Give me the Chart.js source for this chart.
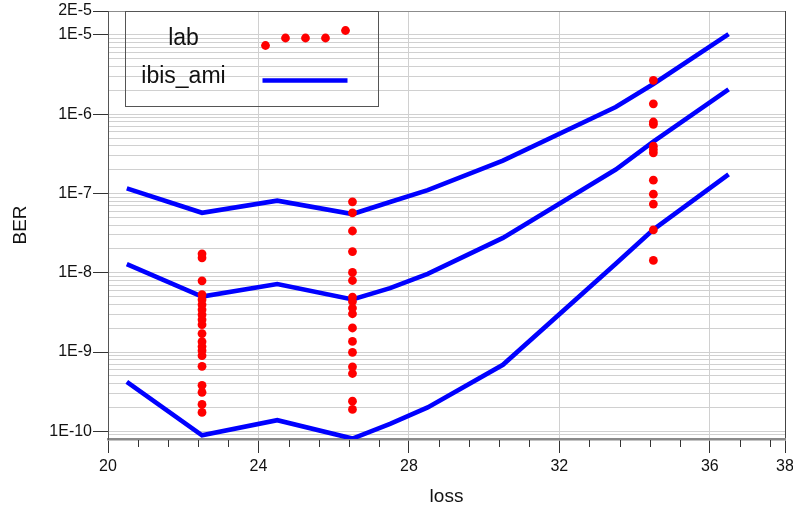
<!DOCTYPE html>
<html>
<head>
<meta charset="utf-8">
<script src="https://cdn.jsdelivr.net/npm/chart.js@4.4.1/dist/chart.umd.min.js"></script>
<style>
  html, body { margin: 0; padding: 0; background: #fff; }
  #wrap { width: 793px; height: 512px; }
</style>
</head>
<body>
<div id="wrap"><canvas id="c" width="793" height="512"></canvas></div>
<script>
// measured points (lab), grouped by loss value
const labLoss = [22.5, 26.5, 34.5];
const labBer225 = [1.73e-8, 1.54e-8, 7.9e-9, 5.3e-9, 4.57e-9, 3.95e-9, 3.42e-9, 2.96e-9, 2.56e-9, 2.21e-9,
                   1.71e-9, 1.35e-9, 1.17e-9, 1.04e-9, 9.0e-10, 6.6e-10, 3.8e-10, 3.1e-10, 2.18e-10, 1.73e-10];
const labBer265 = [7.85e-8, 5.7e-8, 3.36e-8, 1.85e-8, 1.01e-8, 7.98e-9, 4.93e-9, 4.35e-9, 3.59e-9, 3.04e-9,
                   2.01e-9, 1.36e-9, 9.9e-10, 6.5e-10, 5.36e-10, 2.4e-10, 1.89e-10];
const labBer345 = [2.66e-6, 1.35e-6, 7.96e-7, 7.45e-7, 3.94e-7, 3.58e-7, 3.25e-7, 1.47e-7, 9.8e-8, 7.35e-8,
                   3.47e-8, 1.43e-8];

// simulated curves (ibis_ami)
const amiLoss = [20.5, 22.5, 24.5, 26.5, 27.5, 28.5, 30.5, 33.5, 34.5, 36.5];
const amiBerHigh = [1.16e-7, 5.7e-8, 8.1e-8, 5.5e-8, 7.8e-8, 1.1e-7, 2.6e-7, 1.23e-6, 2.4e-6, 1.02e-5];
const amiBerMid  = [1.28e-8, 5.0e-9, 7.2e-9, 4.6e-9, 6.4e-9, 9.7e-9, 2.75e-8, 2.0e-7, 4.5e-7, 2.05e-6];
const amiBerLow  = [4.2e-10, 8.9e-11, 1.38e-10, 8.1e-11, 1.24e-10, 2.0e-10, 6.9e-10, 1.3e-8, 3.5e-8, 1.74e-7];

const lossTicks = [20, 24, 28, 32, 36, 38];
const berTickLabels = ['2E-5', '1E-5', '1E-6', '1E-7', '1E-8', '1E-9', '1E-10'];

const labPoints = [
  ...labBer225.map(v => ({ x: labLoss[0], y: v })),
  ...labBer265.map(v => ({ x: labLoss[1], y: v })),
  ...labBer345.map(v => ({ x: labLoss[2], y: v }))
];
const curve = arr => amiLoss.map((x, i) => ({ x: x, y: arr[i] }));

const isLabeled = v => berTickLabels.find(l => Math.abs(Math.log10(Number(l)) - Math.log10(v)) < 1e-6);

const FONT = "'Liberation Sans', Arial, sans-serif";

// minor ticks under the x axis
const minorTicks = {
  id: 'minorTicks',
  afterDraw(chart) {
    const { ctx, scales: { x }, chartArea } = chart;
    ctx.save();
    ctx.strokeStyle = '#333';
    ctx.lineWidth = 1;
    for (let i = 1; i < 23; i++) {
      if (i % 5 === 0) continue;
      const px = Math.round(x.getPixelForValue(20 + i * 0.8)) + 0.5;
      ctx.beginPath();
      ctx.moveTo(px, chartArea.bottom + 1);
      ctx.lineTo(px, chartArea.bottom + 8);
      ctx.stroke();
    }
    ctx.restore();
  }
};

// boxed legend in the upper left corner
const boxLegend = {
  id: 'boxLegend',
  afterDraw(chart) {
    const { ctx, chartArea: a } = chart;
    const L = a.left + 17.5, T = a.top + 0.5;
    ctx.save();
    ctx.strokeStyle = '#555';
    ctx.lineWidth = 1;
    ctx.strokeRect(L, T, 253, 95);
    ctx.fillStyle = '#111';
    ctx.font = '23px ' + FONT;
    ctx.textBaseline = 'alphabetic';
    ctx.textAlign = 'center';
    ctx.fillText('lab', L + 58, T + 33);
    ctx.fillText('ibis_ami', L + 58, T + 71);
    ctx.fillStyle = '#ff0000';
    [[140, 34], [160, 26.5], [180, 26.5], [200, 26.5], [220, 19]].forEach(([dx, dy]) => {
      ctx.beginPath();
      ctx.arc(L + dx, T + dy, 4.4, 0, Math.PI * 2);
      ctx.fill();
    });
    ctx.strokeStyle = '#0000ff';
    ctx.lineWidth = 4.6;
    ctx.beginPath();
    ctx.moveTo(L + 137, T + 69);
    ctx.lineTo(L + 222, T + 69);
    ctx.stroke();
    ctx.restore();
  }
};

const lineStyle = {
  showLine: true,
  borderColor: '#0000ff',
  borderWidth: 4.6,
  pointRadius: 0,
  tension: 0,
  fill: false
};

new Chart(document.getElementById('c'), {
  type: 'scatter',
  data: {
    datasets: [
      { label: 'lab', data: labPoints, backgroundColor: '#ff0000', borderWidth: 0, pointRadius: 4.4, showLine: false },
      { label: 'ibis_ami', data: curve(amiBerHigh), ...lineStyle },
      { label: 'ibis_ami', data: curve(amiBerMid), ...lineStyle },
      { label: 'ibis_ami', data: curve(amiBerLow), ...lineStyle }
    ]
  },
  options: {
    responsive: false,
    animation: false,
    layout: { padding: { top: 11, right: 8, left: 0, bottom: 0 } },
    plugins: { legend: { display: false }, tooltip: { enabled: false } },
    scales: {
      x: {
        type: 'linear',
        min: 20,
        max: 38,
        afterBuildTicks: s => { s.ticks = lossTicks.map(v => ({ value: v })); },
        afterFit: s => { s.height = 73; s.paddingLeft = 0; s.paddingRight = 0; },
        ticks: { autoSkip: false, maxRotation: 0, padding: 4, color: '#111', font: { family: FONT, size: 16 } },
        grid: {
          color: c => (c.tick && c.tick.value === 38 ? '#444' : '#d0d0d0'),
          lineWidth: 1,
          tickColor: '#333',
          tickLength: 14
        },
        border: { color: '#8a8a8a', width: 2.5 },
        title: { display: true, text: 'loss', color: '#111', font: { family: FONT, size: 19 }, padding: { top: 0, bottom: 4 } }
      },
      y: {
        type: 'logarithmic',
        min: 8e-11,
        max: 2e-5,
        afterBuildTicks: s => {
          const t = [];
          for (let e = -11; e <= -5; e++) {
            for (let m = 1; m <= 9; m++) {
              const v = m * Math.pow(10, e);
              if (v > 8.1e-11 && v < 2.01e-5) t.push({ value: v });
            }
          }
          s.ticks = t;
        },
        afterFit: s => { s.width = 108; s.paddingTop = 0; s.paddingBottom = 0; },
        ticks: {
          autoSkip: false,
          padding: 1,
          color: '#111',
          font: { family: FONT, size: 16 },
          callback: v => isLabeled(v) || ''
        },
        grid: {
          color: c => {
            if (c.tick && Math.abs(c.tick.value - 2e-5) < 1e-9) return '#8c8c8c';
            return '#d0d0d0';
          },
          lineWidth: 1,
          tickLength: 15,
          tickColor: c => (c.tick && isLabeled(c.tick.value) ? '#333' : 'rgba(0,0,0,0)')
        },
        border: { color: '#555', width: 1 },
        title: { display: true, text: 'BER', color: '#111', font: { family: FONT, size: 19 }, padding: { top: 9, bottom: 0 } }
      }
    }
  },
  plugins: [minorTicks, boxLegend]
});
</script>
</body>
</html>
